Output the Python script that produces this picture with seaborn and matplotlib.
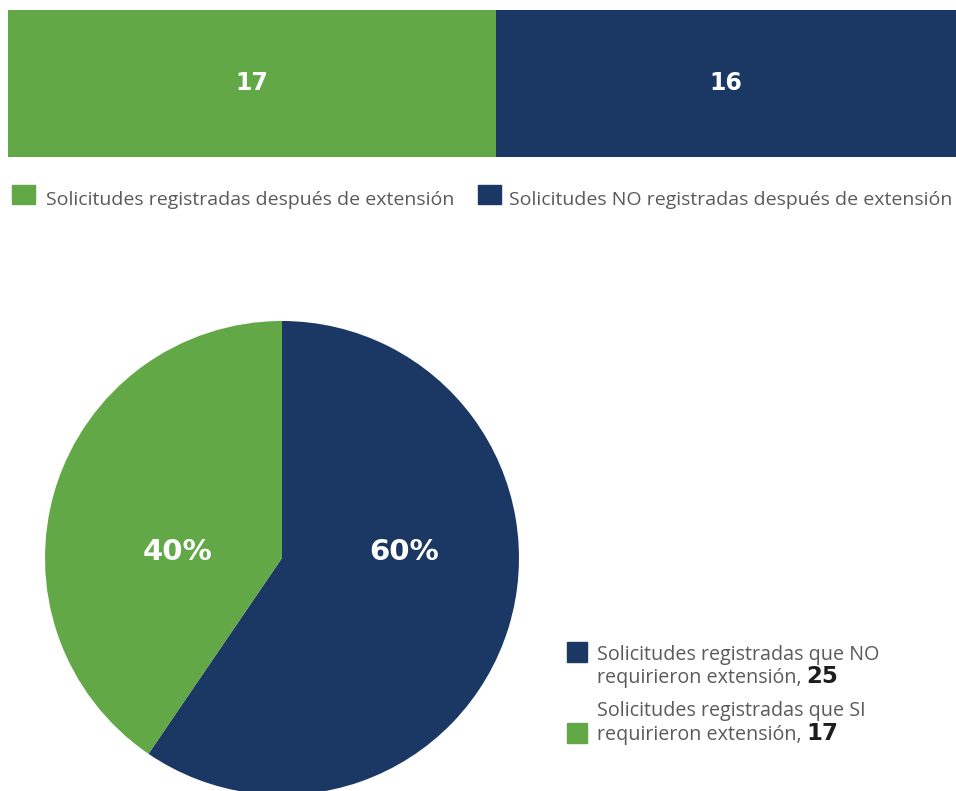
import matplotlib
matplotlib.use("Agg")
import matplotlib.pyplot as plt
import seaborn as sns
import pandas as pd
from matplotlib.patches import Rectangle

GREEN = "#62a846"
NAVY = "#1b3764"
GRAY = "#5a5a5a"
INK = "#1e1e1e"

bar_labels = ["Solicitudes registradas después de extensión",
              "Solicitudes NO registradas después de extensión"]
bar_values = [17, 16]

pie_labels = ["Solicitudes registradas que NO\nrequirieron extensión, ",
              "Solicitudes registradas que SI\nrequirieron extensión, "]
pie_values = [25, 17]

sns.set_theme(style="white")
plt.rcParams["font.family"] = ["Open Sans", "DejaVu Sans"]
BOLD = ["DejaVu Sans"]

W, H = 956, 791
fig = plt.figure(figsize=(W / 100, H / 100), dpi=100)


def box(x0, y0, x1, y1):
    """Pixel box (top-left origin) -> figure fraction rect."""
    return [x0 / W, 1 - y1 / H, (x1 - x0) / W, (y1 - y0) / H]


def fx(x):
    return x / W


def fy(y):
    return 1 - y / H


# ---- stacked horizontal bar ----
ax_bar = fig.add_axes(box(8, 10, 956, 157))
df = pd.DataFrame({"row": ["r"],
                   "total": [sum(bar_values)],
                   "first": [bar_values[0]]})
sns.barplot(data=df, x="total", y="row", orient="h", color=NAVY,
            saturation=1, width=1.0, linewidth=0, ax=ax_bar)
sns.barplot(data=df, x="first", y="row", orient="h", color=GREEN,
            saturation=1, width=1.0, linewidth=0, ax=ax_bar)
ax_bar.set_xlim(0, sum(bar_values))
ax_bar.set_ylim(0.5, -0.5)
ax_bar.axis("off")
start = 0
for v in bar_values:
    ax_bar.text(start + v / 2, 0, f"{v}", ha="center", va="center",
                color="white", fontsize=17, fontweight="bold", family=BOLD)
    start += v

# top legend
for (sx, tx), lab, col in zip([(12, 46), (478, 509)], bar_labels, [GREEN, NAVY]):
    fig.patches.append(Rectangle((fx(sx), fy(204)), 23 / W, 19 / H,
                                 transform=fig.transFigure, color=col))
    fig.text(fx(tx), fy(205), lab, ha="left", va="baseline",
             color=GRAY, fontsize=14)

# ---- pie (clockwise from 12 o'clock) ----
cx, cy, r = 282, 558, 237
ax_pie = fig.add_axes(box(cx - r, cy - r, cx + r, cy + r))
wedges, _, autotexts = ax_pie.pie(
    pie_values, colors=[NAVY, GREEN], startangle=90, counterclock=False,
    radius=1, autopct="%1.0f%%", pctdistance=0.5,
    wedgeprops=dict(linewidth=0),
    textprops=dict(color="white", fontsize=21, fontweight="bold", family=BOLD))
ax_pie.set_xlim(-1, 1)
ax_pie.set_ylim(-1, 1)
ax_pie.set_aspect("equal")
ax_pie.axis("off")
autotexts[0].set_position((0.515, 0.025))
autotexts[1].set_position((-0.44, 0.025))

# bottom legend: (square top, first baseline, second baseline)
fig.canvas.draw()
renderer = fig.canvas.get_renderer()
legend_rows = [
    (642, 660, 683, pie_labels[0], NAVY, pie_values[0]),
    (723, 716, 740, pie_labels[1], GREEN, pie_values[1]),
]
for sq_top, b1, b2, lab, col, val in legend_rows:
    fig.patches.append(Rectangle((fx(567), fy(sq_top + 20)), 20 / W, 20 / H,
                                 transform=fig.transFigure, color=col))
    first, second = lab.split("\n")
    fig.text(fx(597), fy(b1), first, ha="left", va="baseline",
             color=GRAY, fontsize=14.2)
    t2 = fig.text(fx(597), fy(b2), second, ha="left", va="baseline",
                  color=GRAY, fontsize=14.2)
    bb = t2.get_window_extent(renderer)
    fig.text(bb.x1 / W, fy(b2), f"{val}", ha="left",
             va="baseline", color=INK, fontsize=16.5, fontweight="bold",
             family=BOLD)

fig.savefig("out.png", dpi=100)
